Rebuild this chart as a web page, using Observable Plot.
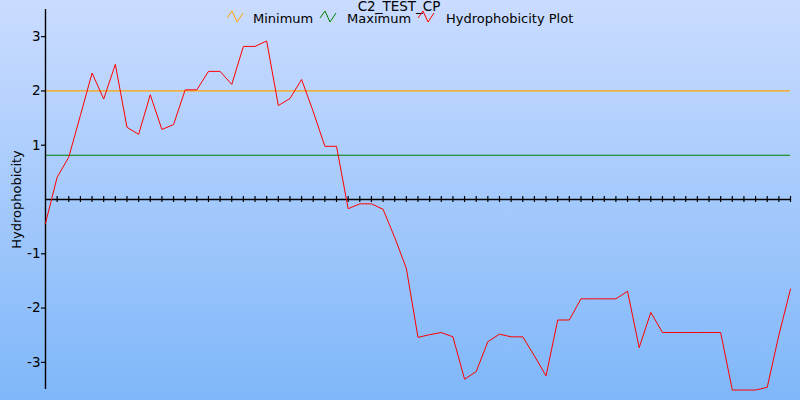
<!DOCTYPE html>
<html><head><meta charset="utf-8">
<script src="https://cdn.jsdelivr.net/npm/d3@7"></script>
<script src="https://cdn.jsdelivr.net/npm/@observablehq/plot@0.6"></script>
<style>
html,body{margin:0;padding:0;}
#wrap{position:relative;width:800px;height:400px;overflow:hidden;background:linear-gradient(to bottom,#cadcff,#7fb7f9);font-family:"DejaVu Sans",sans-serif;}
#wrap svg.plot{position:absolute;left:0;top:0;}
#overlay{position:absolute;left:0;top:0;pointer-events:none;}
</style>
</head><body>
<div id="wrap"></div>
<script>
const title = "C2_TEST_CP";
const yLabel = "Hydrophobicity";
const legendNames = ["Minimum", "Maximum", "Hydrophobicity Plot"];
const legendColors = ["#ffa500", "#008000", "#ff0000"];
const minimumLevel = [2.0];
const maximumLevel = [0.815];
const yTicks = [-3, -2, -1, 1, 2, 3];
const yTickLabels = ["-3", "-2", "-1", "1", "2", "3"];
const hydro = [-0.44, 0.41, 0.78, 1.55, 2.33, 1.85, 2.49, 1.33, 1.20, 1.93,
  1.29, 1.38, 2.02, 2.02, 2.36, 2.36, 2.12, 2.82, 2.82, 2.92,
  1.73, 1.86, 2.21, 1.62, 0.98, 0.98, -0.17, -0.08, -0.08, -0.18,
  -0.70, -1.27, -2.54, -2.49, -2.45, -2.53, -3.31, -3.17, -2.62, -2.48,
  -2.53, -2.53, -2.88, -3.25, -2.22, -2.22, -1.83, -1.83, -1.83, -1.83,
  -1.69, -2.73, -2.08, -2.45, -2.45, -2.45, -2.45, -2.45, -2.45, -3.51,
  -3.51, -3.51, -3.46, -2.50, -1.65];
const positions = hydro.map((d, i) => i);

const chart = Plot.plot({
  width: 800, height: 400,
  marginLeft: 45, marginRight: 10, marginTop: 9, marginBottom: 11,
  x: {domain: [0, hydro.length - 1], axis: null},
  y: {domain: [-3.5, 3.5]},
  style: {background: "transparent", fontFamily: "DejaVu Sans", fontSize: "13px", color: "black", overflow: "visible"},
  marks: [
    Plot.axisY(yTicks, {tickSize: 4, tickPadding: 1, label: null, fontSize: 13.5, strokeWidth: 1.2,
      tickFormat: d => yTickLabels[yTicks.indexOf(d)]}),
    Plot.ruleY(minimumLevel, {stroke: legendColors[0], strokeWidth: 1.2}),
    Plot.ruleY(maximumLevel, {stroke: legendColors[1], strokeWidth: 1.2}),
    Plot.ruleY([0], {stroke: "black", strokeWidth: 1.4}),
    Plot.ruleX(positions.slice(1), {x: d => d, y1: -0.055, y2: 0.055, stroke: "black", strokeWidth: 1.2}),
    Plot.ruleX([0], {stroke: "black", strokeWidth: 1.4}),
    Plot.line(hydro, {x: (d, i) => i, y: d => d, stroke: legendColors[2], strokeWidth: 1}),
    Plot.text([yLabel], {frameAnchor: "left", dx: -29, rotate: -90, text: d => d, fontSize: 13, textAnchor: "middle", lineAnchor: "middle", fill: "black"})
  ]
});
chart.classList.add("plot");
const wrap = document.getElementById("wrap");
wrap.appendChild(chart);

// Title and legend overlay
const ns = "http://www.w3.org/2000/svg";
const ov = document.createElementNS(ns, "svg");
ov.setAttribute("id", "overlay");
ov.setAttribute("width", 800);
ov.setAttribute("height", 40);
const t = document.createElementNS(ns, "text");
t.setAttribute("x", 399); t.setAttribute("y", 10.5);
t.setAttribute("text-anchor", "middle");
t.setAttribute("font-size", "13.5");
t.setAttribute("font-family", "DejaVu Sans");
t.textContent = title;
ov.appendChild(t);
const iconX = [227, 320, 418];
const textX = [253, 347, 446];
legendNames.forEach((name, k) => {
  const p = document.createElementNS(ns, "polyline");
  const x0 = iconX[k];
  p.setAttribute("points", `${x0},18 ${x0+5},11 ${x0+10},22 ${x0+16},13`);
  p.setAttribute("fill", "none");
  p.setAttribute("stroke", legendColors[k]);
  p.setAttribute("stroke-width", "1");
  ov.appendChild(p);
  const tx = document.createElementNS(ns, "text");
  tx.setAttribute("x", textX[k]); tx.setAttribute("y", 22.5);
  tx.setAttribute("font-size", "13");
  tx.setAttribute("font-family", "DejaVu Sans");
  tx.textContent = name;
  ov.appendChild(tx);
});
wrap.appendChild(ov);
</script>
</body></html>
